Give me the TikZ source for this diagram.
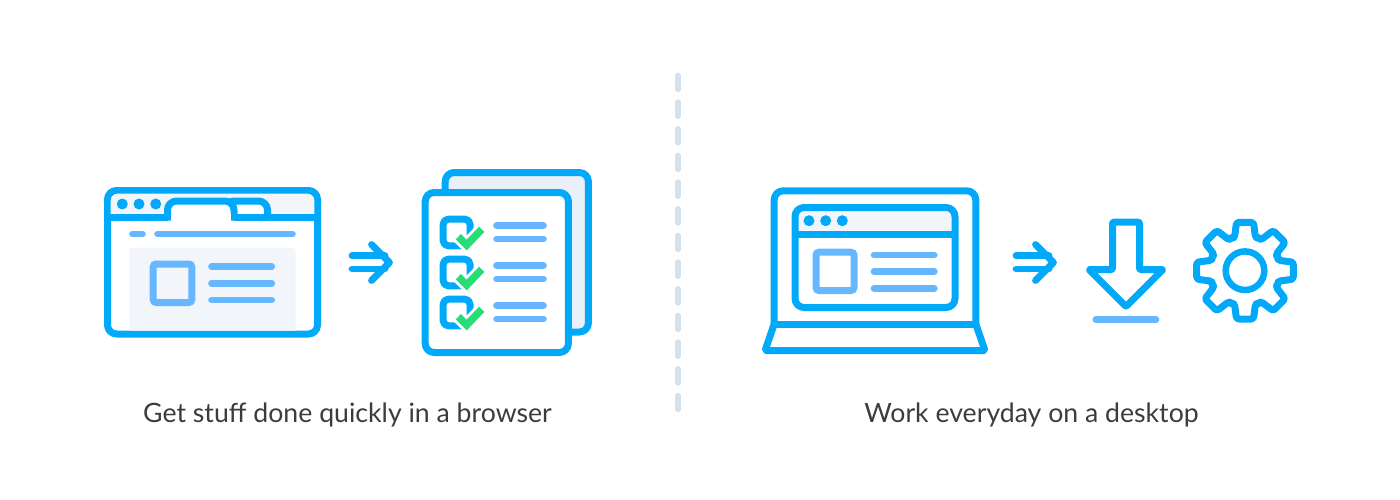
\documentclass[tikz,border=0pt]{standalone}
\usepackage{fontspec}
\setmainfont{Lato}
\definecolor{iconblue}{HTML}{03A9F9}
\definecolor{softblue}{HTML}{66B7FF}
\definecolor{barfill}{HTML}{F2F6FB}
\definecolor{pagefill}{HTML}{E9F0F9}
\definecolor{dashblue}{HTML}{D4E2F0}
\definecolor{checkgreen}{HTML}{26DD78}
\definecolor{captiongray}{HTML}{3C3C3C}
\tikzset{
  icon/.style={draw=iconblue, line width=7pt, line join=round},
  softline/.style={draw=softblue, line width=6.6pt, line cap=round},
  softbox/.style={draw=softblue, line width=7pt, rounded corners=3pt},
  dot/.style={circle, fill=iconblue, inner sep=0pt, minimum size=11pt},
  halo/.style={draw=white, line width=13pt},
  tick/.style={draw=checkgreen, line width=7.5pt},
  caption/.style={text=captiongray, font=\fontsize{26.65}{30}\selectfont, anchor=base},
  pointer/.style={draw=iconblue, line width=6.8pt, line cap=round, line join=round}
}
\begin{document}
\begin{tikzpicture}[x=1pt, y=-1pt]
  \useasboundingbox (0,0) rectangle (1400,500);

  % browser window
  \draw[icon, fill=white, rounded corners=9pt] (107.5,190.5) rectangle (317.5,334);
  \fill[barfill, rounded corners=7pt] (110.7,217.5) -- (110.7,193.7) -- (314.3,193.7) -- (314.3,217.5);
  \node[dot] (B1) at (122.3,204) {};
  \node[dot] (B2) at (139,204) {};
  \node[dot] (B3) at (155.7,204) {};
  \draw[icon, fill=white, rounded corners=9pt] (225,217.5) -- (225,201) -- (267.5,201) -- (267.5,217.5);
  \draw[icon] (107.5,217.5) -- (167.5,217.5);
  \draw[icon] (234,217.5) -- (317.5,217.5);
  \draw[icon, fill=white, rounded corners=9pt] (167.5,220.7) -- (167.5,201) -- (234,201) -- (234,220.7);
  \fill[white] (171,214) rectangle (230.5,221.5);

  \draw[softline] (132.5,234) -- (142.5,234);
  \draw[softline] (157.5,234) -- (292.5,234);
  \fill[barfill, rounded corners=4pt] (129.3,330.5) -- (129.3,247.7) -- (295.7,247.7) -- (295.7,330.5);
  \draw[softbox] (153.2,264) rectangle (191.8,302.5);
  \draw[softline] (211.5,266.7) -- (271.8,266.7);
  \draw[softline] (211.5,283.3) -- (271.8,283.3);
  \draw[softline] (211.5,300) -- (271.8,300);

  % first arrow
  \coordinate (P1) at (352,255.7);
  \coordinate (P2) at (385,255.7);
  \coordinate (P3) at (352,269);
  \coordinate (P4) at (385,269);
  \coordinate (P5) at (371.5,244.5);
  \coordinate (P6) at (389.5,262.5);
  \coordinate (P7) at (371.5,280.5);
  \draw[pointer] (P1) -- (P2);
  \draw[pointer] (P3) -- (P4);
  \draw[pointer] (P5) -- (P6) -- (P7);

  % checklist
  \draw[icon, fill=pagefill, rounded corners=9pt] (445.2,172.5) rectangle (588.4,332);
  \draw[icon, fill=white, rounded corners=9pt] (425.2,192.5) rectangle (568.4,352.5);

  \draw[icon, rounded corners=5pt] (443.2,219.2) rectangle (470,245.8);
  \draw[halo] (458.3,236.7) -- (466.7,245) -- (481.7,229.3);
  \draw[tick] (458.3,236.7) -- (466.7,245) -- (481.7,229.3);
  \draw[softline] (496.5,225.7) -- (543.5,225.7);
  \draw[softline] (496.5,239) -- (543.5,239);

  \draw[icon, rounded corners=5pt] (443.2,259.2) rectangle (470,285.8);
  \draw[halo] (458.3,276.7) -- (466.7,285) -- (481.7,269.3);
  \draw[tick] (458.3,276.7) -- (466.7,285) -- (481.7,269.3);
  \draw[softline] (496.5,265.7) -- (543.5,265.7);
  \draw[softline] (496.5,279) -- (543.5,279);

  \draw[icon, rounded corners=5pt] (443.2,299.2) rectangle (470,325.8);
  \draw[halo] (458.3,316.7) -- (466.7,325) -- (481.7,309.3);
  \draw[tick] (458.3,316.7) -- (466.7,325) -- (481.7,309.3);
  \draw[softline] (496.5,305.7) -- (543.5,305.7);
  \draw[softline] (496.5,319) -- (543.5,319);

  % dashed divider
  \coordinate (D1) at (678,76);
  \coordinate (D2) at (678,409);
  \draw[dashblue, line width=6.7pt, line cap=round, dash pattern=on 13pt off 13.67pt] (D1) -- (D2);

  % laptop
  \draw[icon, rounded corners=9pt] (774.2,324) -- (774.2,190.8) -- (975.8,190.8) -- (975.8,324);
  \draw[icon] (774.2,324) -- (975.8,324);
  \draw[icon, rounded corners=2pt] (774.2,324) -- (765,350.7) -- (985,350.7) -- (975.8,324);

  \fill[barfill, rounded corners=7pt] (798,234) -- (798,210.7) -- (952,210.7) -- (952,234);
  \draw[icon, rounded corners=9pt] (795,207.5) rectangle (955,307.5);
  \draw[icon] (795,234) -- (955,234);
  \node[dot] (L1) at (809,220.7) {};
  \node[dot] (L2) at (825.7,220.7) {};
  \node[dot] (L3) at (842.3,220.7) {};
  \draw[softbox] (816,252.2) rectangle (854,290.5);
  \draw[softline] (874,255) -- (934.3,255);
  \draw[softline] (874,271.7) -- (934.3,271.7);
  \draw[softline] (874,288.3) -- (934.3,288.3);

  % second arrow
  \coordinate (Q1) at (1016,255.7);
  \coordinate (Q2) at (1049,255.7);
  \coordinate (Q3) at (1016,269);
  \coordinate (Q4) at (1049,269);
  \coordinate (Q5) at (1035.5,244.5);
  \coordinate (Q6) at (1053.5,262.5);
  \coordinate (Q7) at (1035.5,280.5);
  \draw[pointer] (Q1) -- (Q2);
  \draw[pointer] (Q3) -- (Q4);
  \draw[pointer] (Q5) -- (Q6) -- (Q7);

  % download
  \draw[icon, rounded corners=1pt] (1112.5,269.5) -- (1112.5,222.2) -- (1139.5,222.2) -- (1139.5,269.5) -- (1163,269.5) -- (1126,306.5) -- (1089,269.5) -- cycle;
  \draw[softline] (1095.8,319.3) -- (1156,319.3);

  % gear
  \draw[icon, rounded corners=2.5pt, shift={(1245,270.7)}]
    (22.5:36) foreach \a in {45,90,...,360} {
      -- ([rotate=-\a]33,-10.5) -- ([rotate=-\a]48.3,-8.5) -- ([rotate=-\a]48.3,8.5) -- ([rotate=-\a]33,10.5) -- ([rotate=-\a]22.5:36)
    } -- cycle;
  \draw[iconblue, line width=6.5pt] (1245,270.7) circle (19.3pt);

  % captions
  \node[caption] (T1) at (347.5,422) {Get stuff done quickly in a browser};
  \node[caption] (T2) at (1031.5,422) {Work everyday on a desktop};
\end{tikzpicture}
\end{document}
